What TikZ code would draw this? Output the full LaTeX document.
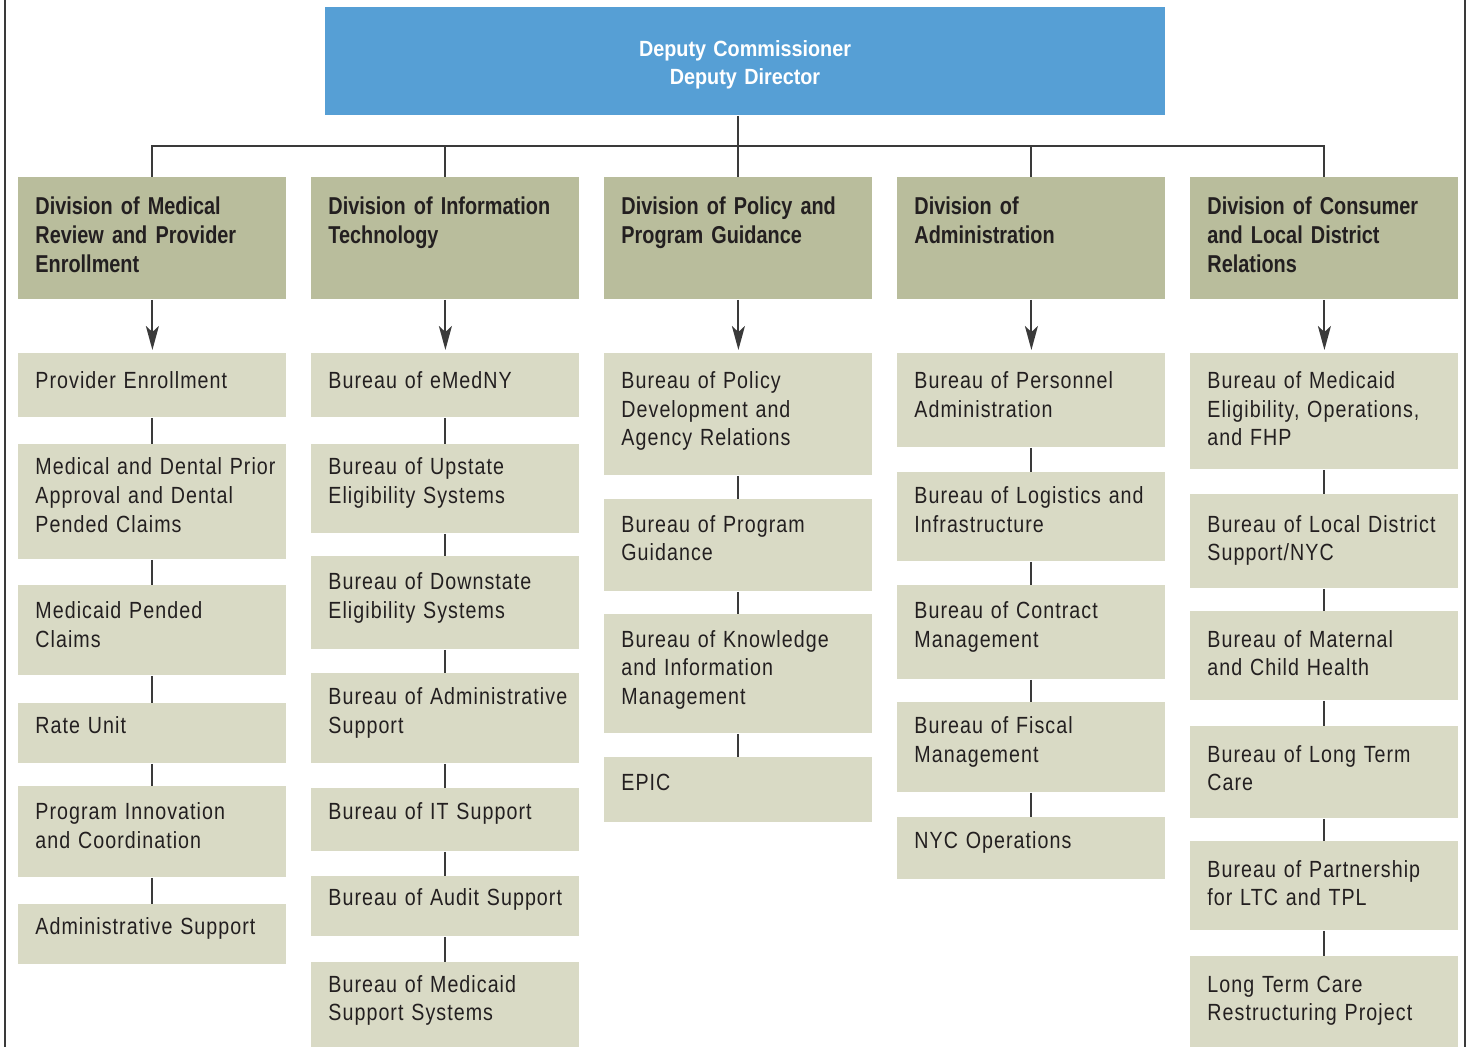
\documentclass[tikz,border=0pt]{standalone}
\usepackage{fontspec}
\setmainfont{Liberation Sans}
\newfontfamily\burfont{Liberation Sans}[FakeStretch=0.84, LetterSpace=4.5]
\newfontfamily\divfont{Liberation Sans}[FakeStretch=0.815]
\newfontfamily\topfont{Liberation Sans}[FakeStretch=0.9]
\usetikzlibrary{arrows.meta}
\definecolor{deputyblue}{HTML}{569FD5}
\definecolor{divgreen}{HTML}{B9BD9C}
\definecolor{burgreen}{HTML}{D9DAC5}
\definecolor{inkdark}{HTML}{231F20}
\definecolor{linegray}{HTML}{3A3A3A}

\begin{document}
\begin{tikzpicture}[
    x=0.5pt, y=-0.5pt,
    topbox/.style={rectangle, fill=deputyblue, anchor=north west, minimum width=420pt, minimum height=54pt, inner sep=0pt},
    divbox/.style={rectangle, fill=divgreen, anchor=north west, minimum width=134pt, minimum height=61pt, inner sep=0pt},
    burbox/.style={rectangle, fill=burgreen, anchor=north west, minimum width=134pt, inner sep=0pt},
    toptext/.style={anchor=base, inner sep=0pt, text width=200pt, align=center, text=white, font=\topfont\bfseries\fontsize{11}{14}\selectfont},
    divtext/.style={anchor=base west, inner sep=0pt, text width=130pt, align=left, text=inkdark, font=\divfont\bfseries\fontsize{12.2}{14.5}\selectfont},
    burtext/.style={anchor=base west, inner sep=0pt, text width=130pt, align=left, text=inkdark, font=\burfont\fontsize{11.7}{14.375}\selectfont},
    line/.style={draw=linegray, line width=1pt},
    frame/.style={draw=linegray, line width=0.8pt},
    arrow/.style={line, -{Stealth[length=12pt, width=6.5pt, inset=3pt]}, shorten >=1.5pt}
]
    \useasboundingbox (0,0) rectangle (1470,1047);
    \draw[frame] (5,0) -- (5,1047);
    \draw[frame] (1465,0) -- (1465,1047);

    % Top
    \node[topbox] (dep) at (325,7) {};
    \node[toptext] (dep-t) at (745,57) {Deputy Commissioner\\Deputy Director};

    % Divisions
    \node[divbox] (dmr) at (18,177) {};
    \node[divbox] (dit) at (311,177) {};
    \node[divbox] (dpg) at (604,177) {};
    \node[divbox] (dad) at (897,177) {};
    \node[divbox] (dcl) at (1190,177) {};
    \node[divtext] (dmr-t) at (35,215) {Division of Medical\\Review and Provider\\Enrollment};
    \node[divtext] (dit-t) at (328,215) {Division of Information\\Technology};
    \node[divtext] (dpg-t) at (621,215) {Division of Policy and\\Program Guidance};
    \node[divtext] (dad-t) at (914,215) {Division of\\Administration};
    \node[divtext] (dcl-t) at (1207,215) {Division of Consumer\\and Local District\\Relations};

    % Medical Review and Provider Enrollment
    \node[burbox, minimum height=32pt] (mr1) at (18,353) {};
    \node[burbox, minimum height=57.5pt] (mr2) at (18,444) {};
    \node[burbox, minimum height=45pt] (mr3) at (18,585) {};
    \node[burbox, minimum height=30pt] (mr4) at (18,703) {};
    \node[burbox, minimum height=45.5pt] (mr5) at (18,786) {};
    \node[burbox, minimum height=30pt] (mr6) at (18,904) {};
    \node[burtext] (mr1-t) at (35,388.3) {Provider Enrollment};
    \node[burtext] (mr2-t) at (35,474.55) {Medical and Dental Prior\\Approval and Dental\\Pended Claims};
    \node[burtext] (mr3-t) at (35,618.3) {Medicaid Pended\\Claims};
    \node[burtext] (mr4-t) at (35,733.3) {Rate Unit};
    \node[burtext] (mr5-t) at (35,819.55) {Program Innovation\\and Coordination};
    \node[burtext] (mr6-t) at (35,934.55) {Administrative Support};

    % Information Technology
    \node[burbox, minimum height=32pt] (it1) at (311,353) {};
    \node[burbox, minimum height=44.5pt] (it2) at (311,444) {};
    \node[burbox, minimum height=46.5pt] (it3) at (311,556) {};
    \node[burbox, minimum height=45pt] (it4) at (311,673) {};
    \node[burbox, minimum height=31.5pt] (it5) at (311,788) {};
    \node[burbox, minimum height=30pt] (it6) at (311,876) {};
    \node[burbox, minimum height=42.5pt] (it7) at (311,962) {};
    \node[burtext] (it1-t) at (328,388.3) {Bureau of eMedNY};
    \node[burtext] (it2-t) at (328,474.55) {Bureau of Upstate\\Eligibility Systems};
    \node[burtext] (it3-t) at (328,589.55) {Bureau of Downstate\\Eligibility Systems};
    \node[burtext] (it4-t) at (328,704.55) {Bureau of Administrative\\Support};
    \node[burtext] (it5-t) at (328,819.55) {Bureau of IT Support};
    \node[burtext] (it6-t) at (328,905.8) {Bureau of Audit Support};
    \node[burtext] (it7-t) at (328,992.05) {Bureau of Medicaid\\Support Systems};

    % Policy and Program Guidance
    \node[burbox, minimum height=61pt] (pg1) at (604,353) {};
    \node[burbox, minimum height=46pt] (pg2) at (604,499) {};
    \node[burbox, minimum height=59.5pt] (pg3) at (604,614) {};
    \node[burbox, minimum height=32.5pt] (pg4) at (604,757) {};
    \node[burtext] (pg1-t) at (621,388.3) {Bureau of Policy\\Development and\\Agency Relations};
    \node[burtext] (pg2-t) at (621,532.05) {Bureau of Program\\Guidance};
    \node[burtext] (pg3-t) at (621,647.05) {Bureau of Knowledge\\and Information\\Management};
    \node[burtext] (pg4-t) at (621,790.8) {EPIC};

    % Administration
    \node[burbox, minimum height=47pt] (ad1) at (897,353) {};
    \node[burbox, minimum height=44.5pt] (ad2) at (897,472) {};
    \node[burbox, minimum height=47pt] (ad3) at (897,585) {};
    \node[burbox, minimum height=45pt] (ad4) at (897,702) {};
    \node[burbox, minimum height=31pt] (ad5) at (897,817) {};
    \node[burtext] (ad1-t) at (914,388.3) {Bureau of Personnel\\Administration};
    \node[burtext] (ad2-t) at (914,503.3) {Bureau of Logistics and\\Infrastructure};
    \node[burtext] (ad3-t) at (914,618.3) {Bureau of Contract\\Management};
    \node[burtext] (ad4-t) at (914,733.3) {Bureau of Fiscal\\Management};
    \node[burtext] (ad5-t) at (914,848.3) {NYC Operations};

    % Consumer and Local District Relations
    \node[burbox, minimum height=58pt] (cl1) at (1190,353) {};
    \node[burbox, minimum height=47pt] (cl2) at (1190,494) {};
    \node[burbox, minimum height=44.5pt] (cl3) at (1190,611) {};
    \node[burbox, minimum height=46pt] (cl4) at (1190,726) {};
    \node[burbox, minimum height=44.5pt] (cl5) at (1190,841) {};
    \node[burbox, minimum height=45.5pt] (cl6) at (1190,956) {};
    \node[burtext] (cl1-t) at (1207,388.3) {Bureau of Medicaid\\Eligibility, Operations,\\and FHP};
    \node[burtext] (cl2-t) at (1207,532.05) {Bureau of Local District\\Support/NYC};
    \node[burtext] (cl3-t) at (1207,647.05) {Bureau of Maternal\\and Child Health};
    \node[burtext] (cl4-t) at (1207,762.05) {Bureau of Long Term\\Care};
    \node[burtext] (cl5-t) at (1207,877.05) {Bureau of Partnership\\for LTC and TPL};
    \node[burtext] (cl6-t) at (1207,992.05) {Long Term Care\\Restructuring Project};

    % Top connectors
    \coordinate (bus) at (0,146);
    \draw[line] (dep.south -| dpg.north) -- (dpg.north);
    \draw[line] (dmr.north) -- (dmr.north |- bus) -- (dcl.north |- bus) -- (dcl.north);
    \draw[line] (bus -| dit.north) -- (dit.north);
    \draw[line] (bus -| dad.north) -- (dad.north);

    % Arrows
    \draw[arrow] (dmr.south) -- (mr1.north);
    \draw[arrow] (dit.south) -- (it1.north);
    \draw[arrow] (dpg.south) -- (pg1.north);
    \draw[arrow] (dad.south) -- (ad1.north);
    \draw[arrow] (dcl.south) -- (cl1.north);

    % Bureau links
    \draw[line] (mr1.south) -- (mr2.north);
    \draw[line] (mr2.south) -- (mr3.north);
    \draw[line] (mr3.south) -- (mr4.north);
    \draw[line] (mr4.south) -- (mr5.north);
    \draw[line] (mr5.south) -- (mr6.north);
    \draw[line] (it1.south) -- (it2.north);
    \draw[line] (it2.south) -- (it3.north);
    \draw[line] (it3.south) -- (it4.north);
    \draw[line] (it4.south) -- (it5.north);
    \draw[line] (it5.south) -- (it6.north);
    \draw[line] (it6.south) -- (it7.north);
    \draw[line] (pg1.south) -- (pg2.north);
    \draw[line] (pg2.south) -- (pg3.north);
    \draw[line] (pg3.south) -- (pg4.north);
    \draw[line] (ad1.south) -- (ad2.north);
    \draw[line] (ad2.south) -- (ad3.north);
    \draw[line] (ad3.south) -- (ad4.north);
    \draw[line] (ad4.south) -- (ad5.north);
    \draw[line] (cl1.south) -- (cl2.north);
    \draw[line] (cl2.south) -- (cl3.north);
    \draw[line] (cl3.south) -- (cl4.north);
    \draw[line] (cl4.south) -- (cl5.north);
    \draw[line] (cl5.south) -- (cl6.north);
\end{tikzpicture}
\end{document}
